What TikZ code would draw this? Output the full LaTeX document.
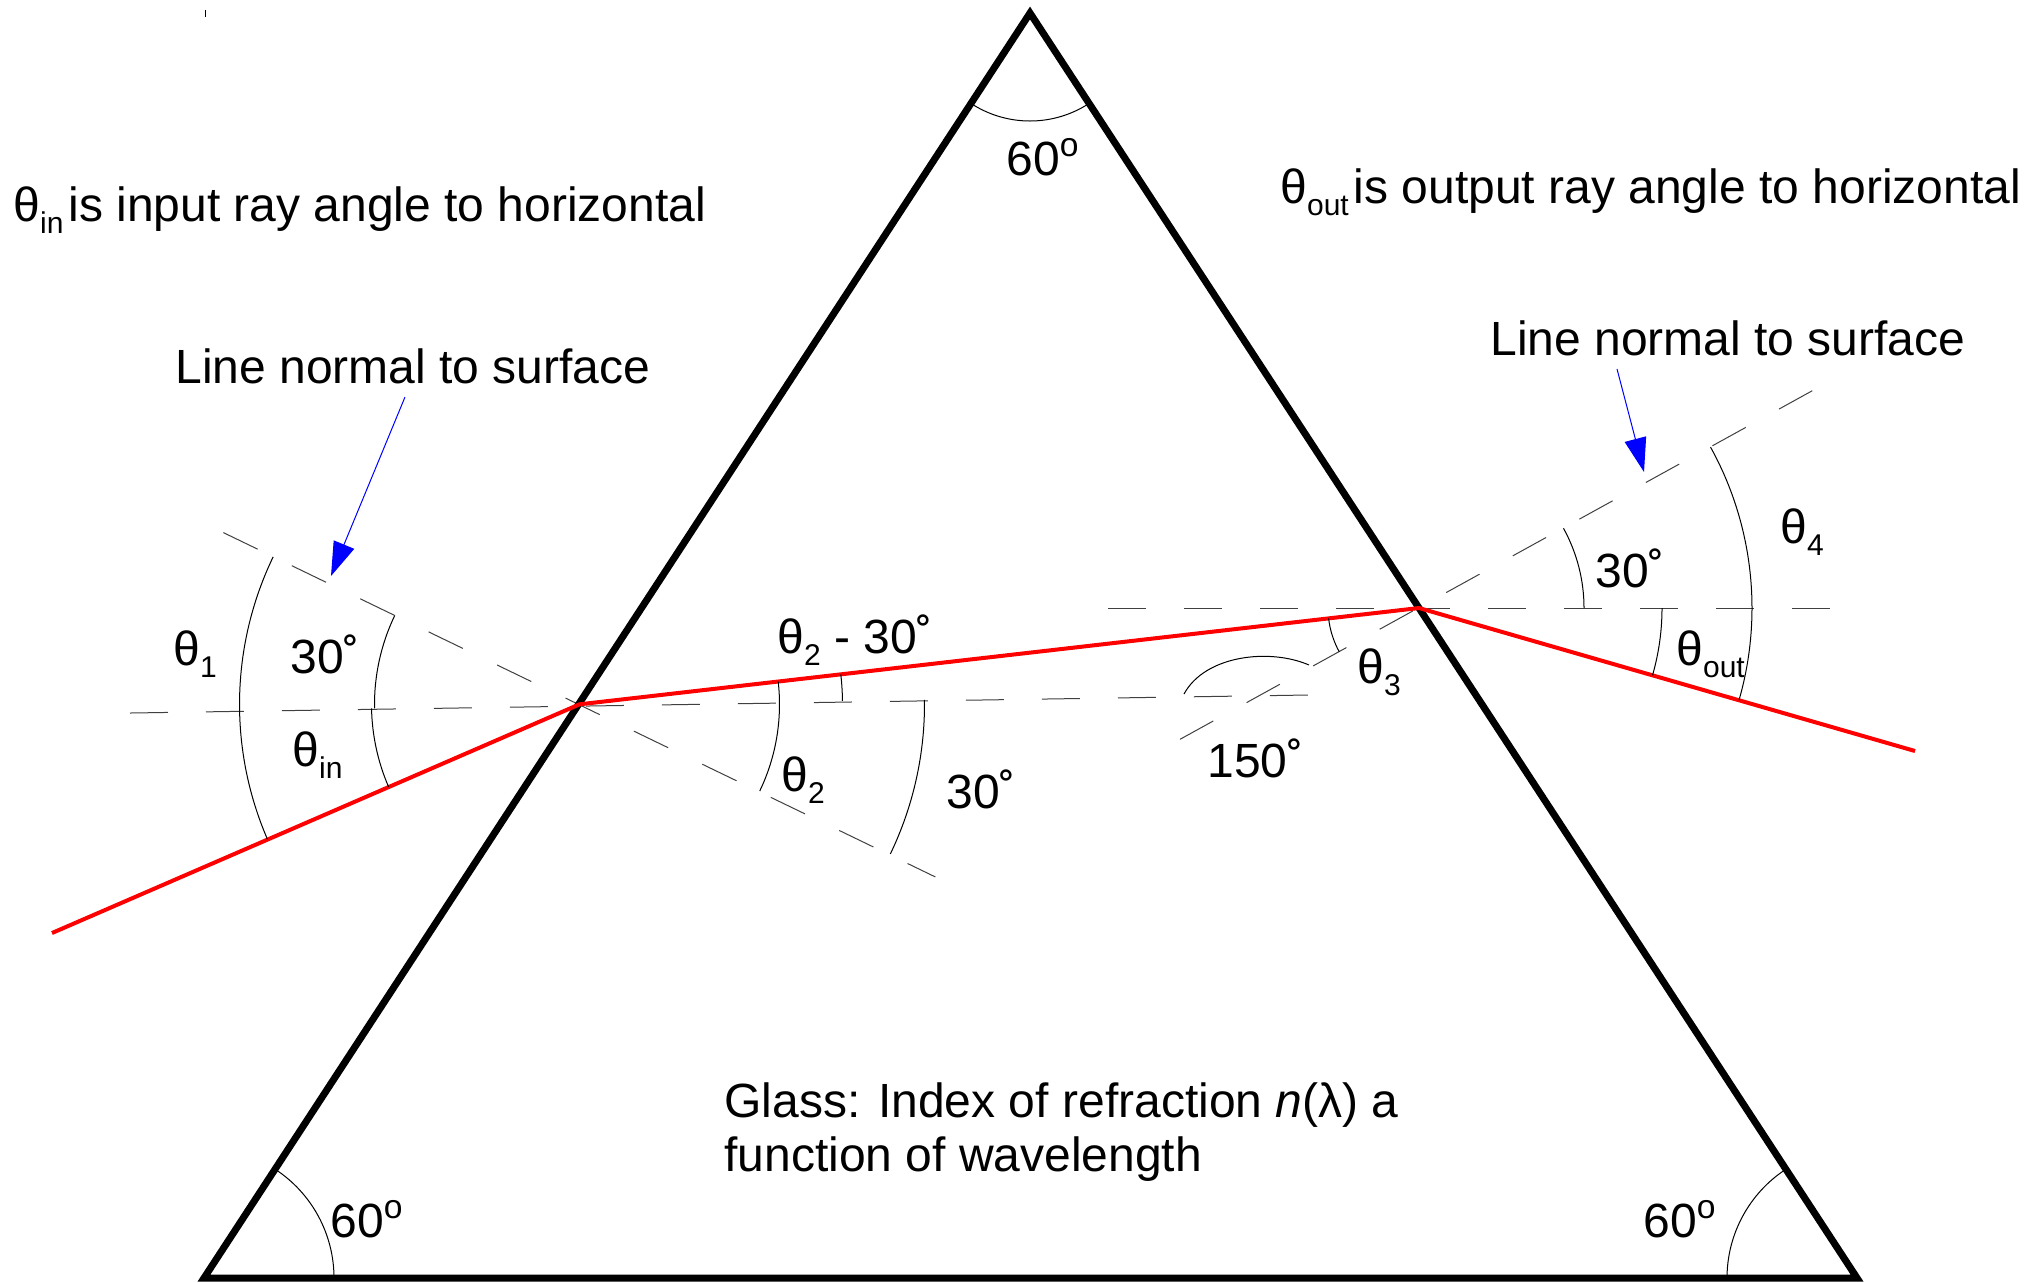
\documentclass[tikz,border=0pt]{standalone}
\usepackage{fontspec}
\setmainfont{Liberation Sans}
\usepackage{tikz}
\usetikzlibrary{arrows.meta, positioning}

\newcommand{\lsub}[1]{\raisebox{-6pt}{\fontsize{15}{15}\selectfont #1}}

\tikzset{
  prism/.style={line width=3.5pt, line join=miter},
  ray/.style={red, line width=2pt},
  guide/.style={black!75, line width=0.5pt, dash pattern=on 19pt off 19pt},
  angmark/.style={line width=0.5pt},
  pointer/.style={blue, line width=0.5pt, -{Triangle[length=17pt, width=11pt]}},
  lbl/.style={font=\fontsize{24}{27}\selectfont, inner sep=0pt, anchor=base west},
}

\begin{document}
\begin{tikzpicture}[x=0.5pt, y=-0.5pt, every node/.style={lbl}]

  \useasboundingbox (0,0) rectangle (2037,1282);

  \coordinate (apex) at (1030,13);
  \coordinate (cornerL) at (204,1278);
  \coordinate (cornerR) at (1857,1278);
  \coordinate (entry) at (579.5,704.3);
  \coordinate (exit) at (1419,608);
  \coordinate (rayIn) at (52,933);
  \coordinate (rayOut) at (1915,751);

  \draw[guide] (130,713) -- (1308,695);
  \draw[guide] (223.4,532.6) -- (935.3,876.9);
  \draw[guide] (1108,608) -- (1833,608);
  \draw[guide] (1180,739.3) -- (1819,387);

  \draw[prism] (apex) -- (cornerR) -- (cornerL) -- cycle;
  \draw[ray] (rayIn) -- (entry) -- (exit) -- (rayOut);
  \draw[angmark] (205,10) -- (205,17);

  \draw[angmark] (entry) ++(156.6:340) arc[start angle=156.6, end angle=205.7, radius=340];
  \draw[angmark] (entry) ++(178.9:205) arc[start angle=178.9, end angle=205.7, radius=205];
  \draw[angmark] (entry) ++(156.6:208) arc[start angle=156.6, end angle=178.9, radius=208];
  \draw[angmark] (entry) ++(-6.54:200) arc[start angle=-6.54, end angle=25.7, radius=200];
  \draw[angmark] (entry) ++(-6.54:263) arc[start angle=-6.54, end angle=-0.73, radius=263];
  \draw[angmark] (entry) ++(-0.73:345) arc[start angle=-0.73, end angle=25.7, radius=345];
  \draw[angmark] (exit) ++(151.2:91) arc[start angle=151.2, end angle=173.46, radius=91];
  \draw[angmark] (1184,694) .. controls (1205,655) and (1270,648) .. (1309,665);
  \draw[angmark] (exit) ++(-28.9:165) arc[start angle=-28.9, end angle=0, radius=165];
  \draw[angmark] (exit) ++(0:243) arc[start angle=0, end angle=16.08, radius=243];
  \draw[angmark] (exit) ++(-28.9:333) arc[start angle=-28.9, end angle=16.08, radius=333];
  \draw[angmark] (apex) ++(56.83:108) arc[start angle=56.83, end angle=123.15, radius=108];
  \draw[angmark] (cornerL) ++(-56.85:130) arc[start angle=-56.85, end angle=0, radius=130];
  \draw[angmark] (cornerR) ++(180:130) arc[start angle=180, end angle=236.83, radius=130];

  \node (thetaOne) at (173,665) {θ\lsub{1}};
  \node (angInTop) at (290,673) {30˚};
  \node (thetaIn) at (292,766) {θ\lsub{in}};
  \node (thetaDiff) at (777,653) {θ\lsub{2} - 30˚};
  \node (thetaTwo) at (781,791) {θ\lsub{2}};
  \node (angInLow) at (946,808) {30˚};
  \node (angObtuse) at (1207,777) {150˚};
  \node (thetaThree) at (1357,683) {θ\lsub{3}};
  \node (angOut) at (1595,587) {30˚};
  \node (thetaOut) at (1676,665) {θ\lsub{out}};
  \node (thetaFour) at (1780,543) {θ\lsub{4}};
  \node (apexAng) at (1006,175) {60\textsuperscript{o}};
  \node (leftAng) at (330,1237) {60\textsuperscript{o}};
  \node (rightAng) at (1643,1237) {60\textsuperscript{o}};

  \node (inNote) at (13,221) {θ\lsub{in}\hspace{2.5pt}is input ray angle to horizontal};
  \node (outNote) at (1280,203) {θ\lsub{out}\hspace{2.5pt}is output ray angle to horizontal};
  \node (normalL) at (175,383) {Line normal to surface};
  \node (normalR) at (1490,355) {Line normal to surface};
  \node[anchor=north west, align=left] (glass) at (724,1082) {Glass: Index of refraction \textit{n}(λ) a\\function of wavelength};

  \coordinate (tailL) at (405,397);
  \coordinate (tipL) at (331,576);
  \coordinate (tailR) at (1617,369);
  \coordinate (tipR) at (1644,472);
  \draw[pointer] (tailL) -- (tipL);
  \draw[pointer] (tailR) -- (tipR);

\end{tikzpicture}
\end{document}
